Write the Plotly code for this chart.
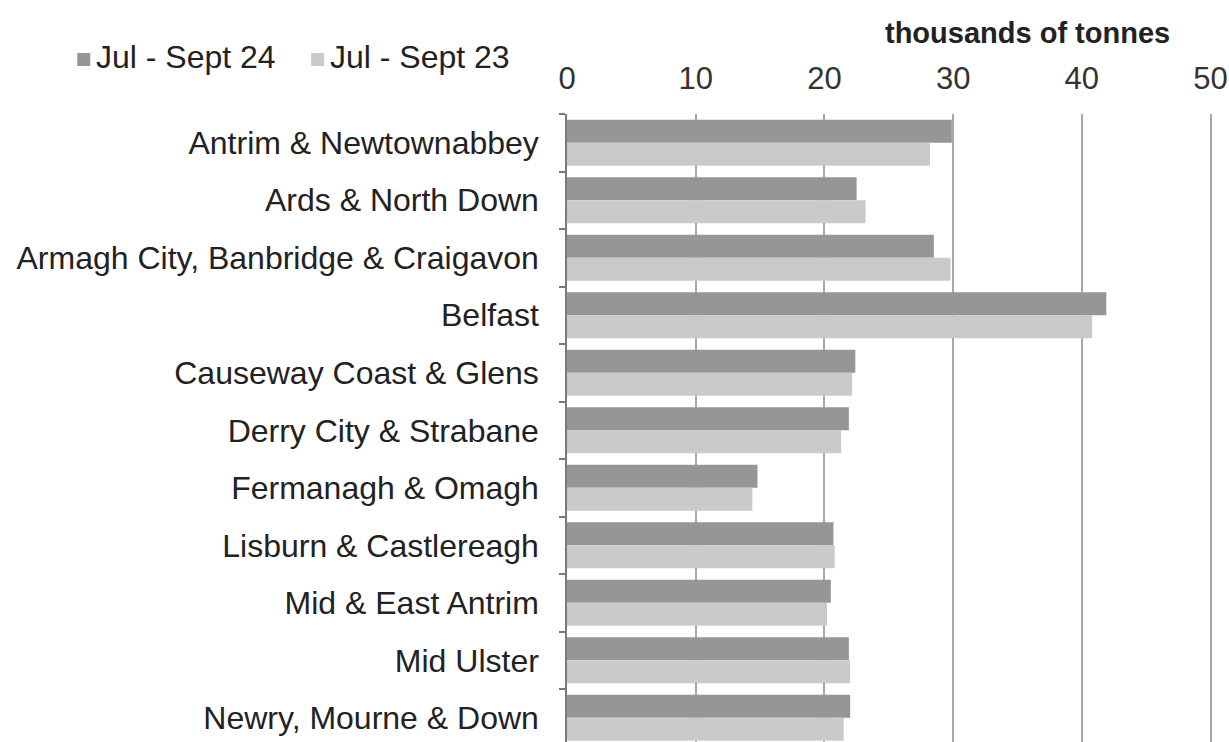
import plotly.graph_objects as go

councils = [
    "Antrim & Newtownabbey",
    "Ards & North Down",
    "Armagh City, Banbridge & Craigavon",
    "Belfast",
    "Causeway Coast & Glens",
    "Derry City & Strabane",
    "Fermanagh & Omagh",
    "Lisburn & Castlereagh",
    "Mid & East Antrim",
    "Mid Ulster",
    "Newry, Mourne & Down",
]
jul_sep_24 = [29.9, 22.5, 28.5, 41.9, 22.4, 21.9, 14.8, 20.7, 20.5, 21.9, 22.0]
jul_sep_23 = [28.2, 23.2, 29.8, 40.8, 22.15, 21.3, 14.4, 20.8, 20.2, 22.0, 21.5]
series_names = ["Jul - Sept 24", "Jul - Sept 23"]
series_colors = ["#969696", "#cacaca"]
x_ticks = [0, 10, 20, 30, 40, 50]
axis_title = "thousands of tonnes"

W, H = 1229, 742
ML, MR, MT, MB = 567, 11.6, 114, 0
FONT = "Liberation Sans, Arial, sans-serif"


def px_x(px):
    return (px - ML) / (W - ML - MR)


def px_y(py):
    return 1 - (py - MT) / (H - MT - MB)


fig = go.Figure()
for name, vals, col in zip(series_names, [jul_sep_24, jul_sep_23], series_colors):
    fig.add_trace(go.Bar(
        y=councils, x=vals, name=name, orientation="h",
        marker=dict(color=col, line=dict(width=0)),
        showlegend=False,
    ))

fig.update_layout(
    width=W, height=H,
    margin=dict(l=ML, r=MR, t=MT, b=MB, pad=0, autoexpand=False),
    paper_bgcolor="white", plot_bgcolor="white",
    barmode="group", bargap=0.2, bargroupgap=0,
    font=dict(family=FONT, size=32, color="#222222"),
    xaxis=dict(
        side="top", range=[0, 50.5], tickvals=x_ticks,
        showgrid=True, gridcolor="#a8a8a8", gridwidth=1.5,
        zeroline=False, showline=False, ticks="",
        ticklabelstandoff=18, automargin=False,
        ticklabeloverflow="allow",
        tickfont=dict(size=31, color="#333333"),
    ),
    yaxis=dict(
        type="category", range=[10.42, -0.5],
        showline=True, linecolor="#7a7a7a", linewidth=1.5,
        ticks="outside", ticklen=6, tickcolor="#7a7a7a", tickwidth=1.5,
        tickson="boundaries", showgrid=False,
        ticklabelstandoff=20, automargin=False,
        tickfont=dict(size=32, color="#222222"),
    ),
)

# axis title
fig.add_annotation(
    text="<b>" + axis_title + "</b>", xref="paper", yref="paper",
    x=px_x(1172), y=px_y(33), xanchor="right", yanchor="middle",
    showarrow=False, font=dict(size=29, color="#222222", family=FONT),
)

# custom legend
leg_items = [(77, series_names[0], series_colors[0]), (311, series_names[1], series_colors[1])]
for x0, name, col in leg_items:
    fig.add_shape(type="rect", xref="paper", yref="paper",
                  x0=px_x(x0), x1=px_x(x0 + 13), y0=px_y(66), y1=px_y(53),
                  fillcolor=col, line=dict(width=0))
    fig.add_annotation(
        text=name, xref="paper", yref="paper",
        x=px_x(x0 + 17), y=px_y(57), xanchor="left", yanchor="middle",
        showarrow=False, font=dict(size=32, color="#222222", family=FONT),
    )

fig.write_html(
    "out.html",
    config={"displayModeBar": False},
    post_script="document.body.style.margin='0';document.body.style.overflow='hidden';",
)
